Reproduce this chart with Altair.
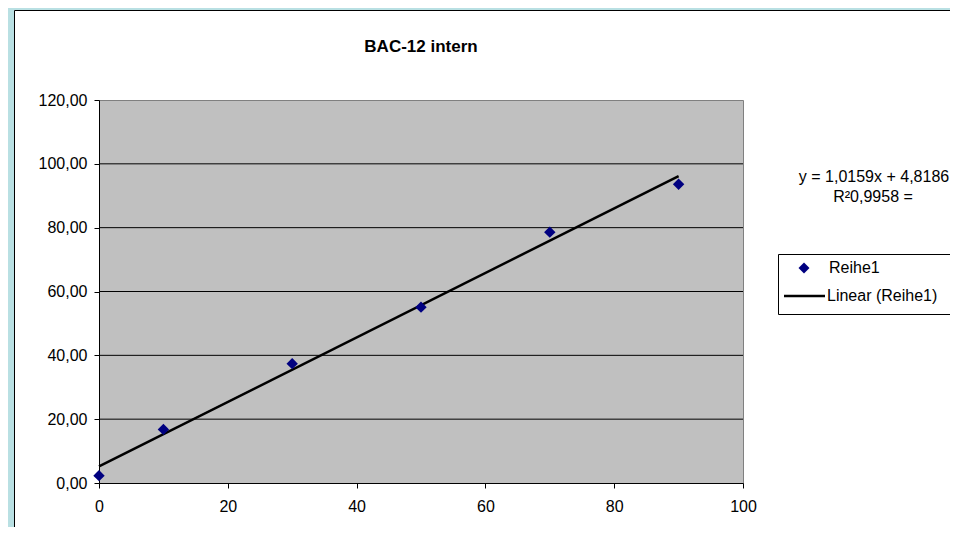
import altair as alt
import pandas as pd

# ---- data ----
x_vals = [0, 10, 30, 50, 70, 90]
y_vals = [2.3, 16.8, 37.4, 55.1, 78.6, 93.6]
grid_vals = [20, 40, 60, 80, 100]
x_ticks = [0, 20, 40, 60, 80, 100]
y_ticks = [0, 20, 40, 60, 80, 100, 120]
title_text = "BAC-12 intern"
series_name = "Reihe1"
trend_name = "Linear (Reihe1)"
eq_lines = ["y = 1,0159x + 4,8186", "R²0,9958 ="]

# ---- layout / style ----
W, H = 644, 383
PAD = {"left": 91, "top": 92, "right": 207, "bottom": 44}
FONT = "Liberation Sans"
TEAL = "#b9e0e3"
NAVY = "#000080"
PLOT_BG = "#c0c0c0"

pts = pd.DataFrame({"x": x_vals, "y": y_vals})
grid_df = pd.DataFrame({"g": grid_vals})
one = pd.DataFrame({"a": [0]})

xs = alt.Scale(domain=[0, 100], nice=False, zero=False)
ys = alt.Scale(domain=[0, 120], nice=False)

# outer frame decoration
teal_left = alt.Chart(one).mark_rect(color=TEAL).encode(
    x=alt.value(-PAD["left"]), x2=alt.value(-85),
    y=alt.value(-PAD["top"]), y2=alt.value(H + PAD["bottom"]))
teal_top = alt.Chart(one).mark_rect(color=TEAL).encode(
    x=alt.value(-PAD["left"]), x2=alt.value(W + PAD["right"]),
    y=alt.value(-PAD["top"]), y2=alt.value(-90))
frame = alt.Chart(one).mark_rect(fill="white", fillOpacity=0, stroke="black", strokeWidth=1).encode(
    x=alt.value(-84.5), x2=alt.value(W + PAD["right"] + 10),
    y=alt.value(-89.5), y2=alt.value(H + PAD["bottom"] + 10))

grid = alt.Chart(grid_df).mark_rule(color="black", strokeWidth=1).encode(
    y=alt.Y("g:Q", scale=ys))

trend = alt.Chart(pts).transform_regression("x", "y", method="linear").mark_line(
    color="black", strokeWidth=2.5).encode(
    x=alt.X("x:Q", scale=xs), y=alt.Y("y:Q", scale=ys))

points = alt.Chart(pts).mark_point(shape="diamond", filled=True, color=NAVY, size=130, opacity=1).encode(
    x=alt.X("x:Q", scale=xs, axis=alt.Axis(values=x_ticks, title=None, labelPadding=10, labelFlush=False)),
    y=alt.Y("y:Q", scale=ys, axis=alt.Axis(
        values=y_ticks, title=None, labelPadding=7,
        labelExpr="replace(format(datum.value, '.2f'), '.', ',')")))

title = alt.Chart(one).mark_text(font=FONT, fontSize=17, fontWeight="bold", color="black",
                                 align="center", baseline="middle").encode(
    x=alt.value(W / 2), y=alt.value(-53), text=alt.value(title_text))

eq1 = alt.Chart(one).mark_text(font=FONT, fontSize=16, color="black", align="center", baseline="middle").encode(
    x=alt.value(775), y=alt.value(77), text=alt.value(eq_lines[0]))
eq2 = alt.Chart(one).mark_text(font=FONT, fontSize=16, color="black", align="center", baseline="middle").encode(
    x=alt.value(774), y=alt.value(97), text=alt.value(eq_lines[1]))

leg_box = alt.Chart(one).mark_rect(fill="white", stroke="black", strokeWidth=1).encode(
    x=alt.value(679.5), x2=alt.value(854.5), y=alt.value(154.5), y2=alt.value(214.5))
leg_pt = alt.Chart(one).mark_point(shape="diamond", filled=True, color=NAVY, size=120, opacity=1).encode(
    x=alt.value(705), y=alt.value(168))
leg_rule = alt.Chart(one).mark_rule(color="black", strokeWidth=2.5).encode(
    x=alt.value(685), x2=alt.value(726), y=alt.value(196))
leg_t1 = alt.Chart(one).mark_text(font=FONT, fontSize=16, color="black", align="left", baseline="middle").encode(
    x=alt.value(730), y=alt.value(168), text=alt.value(series_name))
leg_t2 = alt.Chart(one).mark_text(font=FONT, fontSize=16, color="black", align="left", baseline="middle").encode(
    x=alt.value(728), y=alt.value(196), text=alt.value(trend_name))

chart = alt.layer(
    teal_left, teal_top, frame, grid, trend, points, title, eq1, eq2,
    leg_box, leg_pt, leg_rule, leg_t1, leg_t2
).properties(
    width=W, height=H,
    autosize=alt.AutoSizeParams(type="none"),
    padding=PAD,
).configure(
    background="white",
).configure_view(
    fill=PLOT_BG, stroke="#808080", strokeWidth=1,
).configure_axis(
    labelFont=FONT, labelFontSize=16, labelColor="black",
    tickColor="black", tickSize=5, tickWidth=1,
    domainColor="black", domainWidth=1, grid=False,
)

chart.save("out.html", embed_options={"renderer": "svg", "actions": False})
